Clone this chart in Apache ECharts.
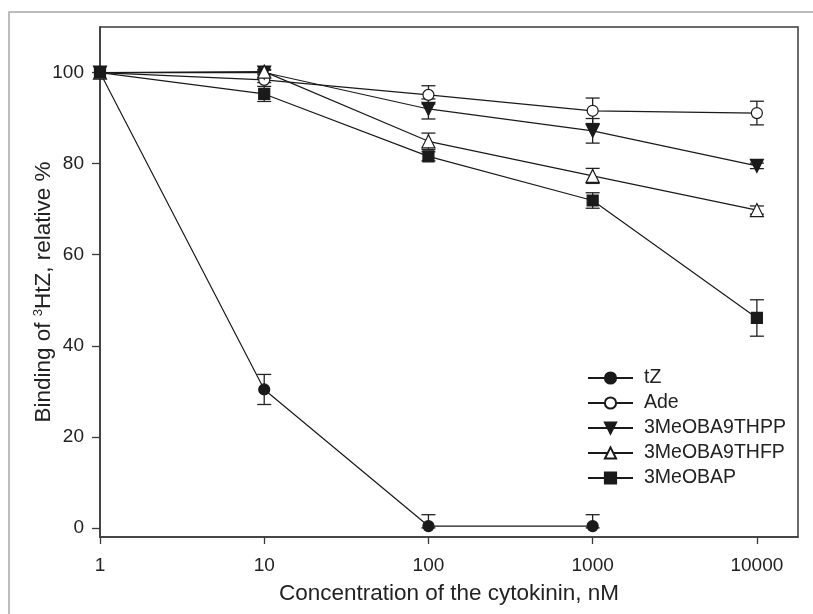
<!DOCTYPE html>
<html>
<head>
<meta charset="utf-8">
<script src="https://cdn.jsdelivr.net/npm/echarts@6/dist/echarts.min.js"></script>
<style>
  html, body { margin: 0; padding: 0; background: #fff; }
  #chart { width: 813px; height: 614px; }
</style>
</head>
<body>
<div id="chart"></div>
<script>
// concentration, nM
var conc = [1, 10, 100, 1000, 10000];
var xTicks = [1, 10, 100, 1000, 10000];
var yTicks = [0, 20, 40, 60, 80, 100];

var tZ = [100, 30.4, 0.4, 0.4];
var tZErr = [0, 3.3, 2.5, 2.5];
var ade = [100, 98.4, 95.1, 91.6, 91.1];
var adeErr = [0, 0.6, 2.0, 2.8, 2.6];
var thpp = [100, 100, 92.0, 87.2, 79.5];
var thppErr = [0, 0.5, 2.2, 2.7, 0.6];
var thfp = [100, 100.2, 84.9, 77.3, 69.8];
var thfpErr = [0, 0.5, 1.8, 1.65, 0.9];
var bap = [100, 95.3, 81.6, 71.9, 46.1];
var bapErr = [0, 1.65, 1.0, 1.7, 4.0];

var FONT = 'Liberation Sans, Arial, sans-serif';

function pairs(vals) {
    return vals.map(function (v, i) { return [conc[i], v]; });
}
function errPairs(vals, errs) {
    return vals.map(function (v, i) { return [conc[i], v, errs[i]]; });
}

// error bars with caps, drawn under the markers
function renderErr(params, api) {
    var x = api.value(0), v = api.value(1), e = api.value(2);
    if (!e) return;
    var hi = v + e, lo = Math.max(0, v - e);
    var pHi = api.coord([x, hi]);
    var pLo = api.coord([x, lo]);
    var c = api.coord([x, v]);
    var cap = 7;
    var style = { stroke: '#222', lineWidth: 1.3 };
    var kids = [
        { type: 'line', shape: { x1: c[0], y1: pHi[1], x2: c[0], y2: pLo[1] }, style: style },
        { type: 'line', shape: { x1: c[0] - cap, y1: pHi[1], x2: c[0] + cap, y2: pHi[1] }, style: style }
    ];
    if (lo < v) {
        kids.push({ type: 'line', shape: { x1: c[0] - cap, y1: pLo[1], x2: c[0] + cap, y2: pLo[1] }, style: style });
    }
    return { type: 'group', children: kids };
}

function lineSeries(name, vals, symbol, size, fill, rotate) {
    return {
        name: name,
        type: 'line',
        data: pairs(vals),
        symbol: symbol,
        symbolSize: size,
        symbolRotate: rotate || 0,
        showAllSymbol: true,
        z: 3,
        lineStyle: { color: '#1a1a1a', width: 1.2 },
        itemStyle: { color: fill, borderColor: '#1a1a1a', borderWidth: 1.2 },
        emphasis: { disabled: true }
    };
}
function errSeries(name, vals, errs) {
    return {
        name: name + ' err',
        type: 'custom',
        renderItem: renderErr,
        data: errPairs(vals, errs),
        encode: { x: 0, y: 1 },
        z: 2,
        silent: true
    };
}

var dom = document.getElementById('chart');
var chart = echarts.init(dom, null, { renderer: 'canvas' });

var option = {
    animation: false,
    backgroundColor: '#fff',
    textStyle: { fontFamily: FONT },
    graphic: [{
        type: 'rect',
        shape: { x: 9, y: 12, width: 900, height: 700 },
        style: { fill: 'none', stroke: '#a8a8a8', lineWidth: 1.5 },
        silent: true,
        z: -1
    }],
    grid: {
        left: 100, top: 27, right: 15, bottom: 77,
        show: true,
        borderColor: '#3a3a3a',
        borderWidth: 1.5
    },
    legend: {
        left: 587,
        top: 368,
        padding: 0,
        orient: 'vertical',
        itemWidth: 45,
        itemHeight: 14,
        itemGap: 5,
        data: ['tZ', 'Ade', '3MeOBA9THPP', '3MeOBA9THFP', '3MeOBAP'],
        textStyle: { fontFamily: FONT, fontSize: 19.5, color: '#222', lineHeight: 20, padding: [0, 0, 0, 6] },
        selectedMode: false
    },
    xAxis: {
        type: 'log',
        logBase: 10,
        min: 1,
        max: 17800,
        name: 'Concentration of the cytokinin, nM',
        nameLocation: 'middle',
        nameGap: 45,
        nameTextStyle: { fontFamily: FONT, fontSize: 22.5, color: '#222' },
        axisLine: { onZero: false, lineStyle: { color: '#3a3a3a', width: 1.5 } },
        axisTick: { customValues: xTicks, length: 7, lineStyle: { color: '#3a3a3a', width: 1.3 } },
        axisLabel: {
            customValues: xTicks,
            margin: 19,
            fontSize: 19,
            color: '#222',
            formatter: function (v) { return String(Math.round(v)); }
        },
        minorTick: { show: false },
        splitLine: { show: false }
    },
    yAxis: {
        type: 'value',
        min: -2,
        max: 110,
        name: 'Binding of {sup|3}HtZ, relative %',
        nameLocation: 'middle',
        nameGap: 44,
        nameMoveOverlap: false,
        nameTextStyle: {
            fontFamily: FONT, fontSize: 22.5, color: '#222',
            padding: [0, 20, 0, 0],
            rich: { sup: { fontSize: 13, verticalAlign: 'top', padding: [0, 0, 11, 0], fontFamily: FONT, color: '#222' } }
        },
        axisLine: { show: true, onZero: false, lineStyle: { color: '#3a3a3a', width: 1.5 } },
        axisTick: { show: true, customValues: yTicks, length: 8, lineStyle: { color: '#3a3a3a', width: 1.3 } },
        axisLabel: {
            customValues: yTicks,
            margin: 16,
            fontSize: 19,
            color: '#222'
        },
        splitLine: { show: false }
    },
    series: [
        errSeries('tZ', tZ, tZErr),
        errSeries('Ade', ade, adeErr),
        errSeries('3MeOBA9THPP', thpp, thppErr),
        errSeries('3MeOBA9THFP', thfp, thfpErr),
        errSeries('3MeOBAP', bap, bapErr),
        lineSeries('tZ', tZ, 'circle', 11, '#1a1a1a'),
        lineSeries('Ade', ade, 'circle', 11, '#fff'),
        lineSeries('3MeOBA9THPP', thpp, 'triangle', 13, '#1a1a1a', 180),
        lineSeries('3MeOBA9THFP', thfp, 'triangle', 13, '#fff'),
        lineSeries('3MeOBAP', bap, 'rect', 11, '#1a1a1a')
    ]
};

chart.setOption(option);
</script>
</body>
</html>
